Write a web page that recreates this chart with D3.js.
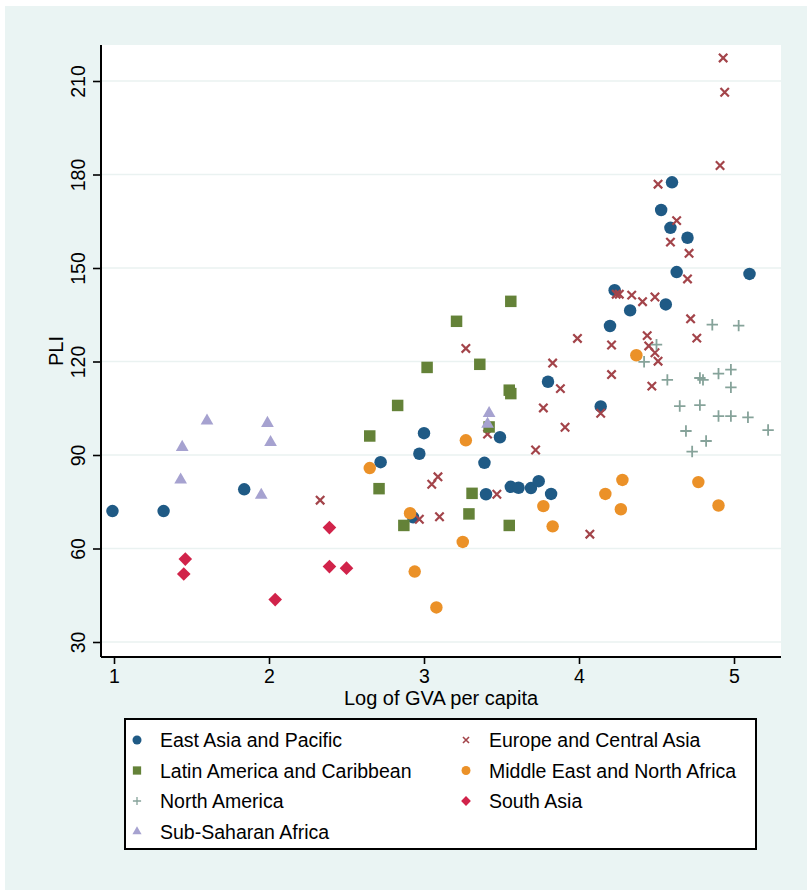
<!DOCTYPE html>
<html>
<head>
<meta charset="utf-8">
<script src="https://cdn.jsdelivr.net/npm/d3@7"></script>
<style>
  body { margin: 0; background: #fff; }
  svg { display: block; font-family: "Liberation Sans", Arial, sans-serif; }
</style>
</head>
<body>
<div id="chart"></div>
<script>
// series: [log GVA per capita, PLI]
const eastAsia = [[0.99, 72], [1.32, 72], [1.84, 79], [3.00, 97], [3.49, 95.7], [2.97, 90.4], [2.72, 87.7],
  [3.39, 87.5], [3.56, 79.8], [3.61, 79.5], [3.69, 79.4], [3.74, 81.6], [3.82, 77.5], [3.40, 77.4], [2.93, 70],
  [3.80, 113.5], [4.14, 105.6], [4.20, 131.4], [4.33, 136.4], [4.56, 138.3], [4.23, 142.9], [4.63, 148.7],
  [5.10, 148.1], [4.70, 159.7], [4.59, 162.9], [4.53, 168.6], [4.60, 177.5]];
const europe = [[4.93, 217.4], [4.94, 206.4], [4.91, 182.9], [4.51, 176.9], [4.63, 165.2], [4.59, 158.3],
  [4.71, 154.7], [4.70, 146.5], [4.24, 141.6], [4.26, 141.6], [4.34, 141.3], [4.49, 140.7], [4.41, 139.2],
  [4.72, 133.7], [4.76, 127.5], [3.99, 127.4], [4.44, 128.3], [4.21, 125.3], [4.45, 125], [4.49, 122.8],
  [4.51, 120.1], [3.83, 119.5], [4.21, 115.8], [3.88, 111.3], [4.47, 112.1], [3.77, 105.1], [4.14, 103.4],
  [3.91, 98.9], [4.07, 64.6], [3.72, 91.6], [3.27, 124.2], [3.41, 96.7], [3.09, 83], [3.05, 80.6],
  [3.47, 77.4], [2.97, 69.4], [3.10, 70.2], [2.33, 75.5]];
const latinAmerica = [[3.56, 139.3], [3.21, 132.9], [3.36, 119.1], [3.02, 118.1], [3.55, 110.8], [3.56, 109.7],
  [2.83, 105.9], [3.42, 99], [2.65, 96.1], [2.71, 79.2], [3.31, 77.7], [3.29, 71.1], [2.87, 67.4], [3.55, 67.4]];
const middleEast = [[3.27, 94.7], [2.65, 85.8], [2.91, 71.3], [3.77, 73.6], [3.83, 67.1], [3.25, 62.1],
  [2.94, 52.6], [3.08, 41.1], [4.28, 82], [4.17, 77.5], [4.27, 72.6], [4.77, 81.3], [4.90, 73.8], [4.37, 122]];
const northAmerica = [[4.86, 131.8], [5.03, 131.5], [4.50, 125.4], [4.42, 119.9], [4.98, 117.4], [4.90, 116.1],
  [4.57, 114.1], [4.78, 114.7], [4.80, 114.1], [4.98, 111.7], [4.65, 105.7], [4.78, 106], [4.90, 102.5],
  [4.98, 102.5], [5.09, 102.1], [5.22, 98], [4.69, 97.7], [4.82, 94.5], [4.73, 91.1]];
const southAsia = [[1.46, 56.6], [1.45, 51.8], [2.04, 43.6], [2.39, 66.7], [2.39, 54.2], [2.50, 53.7]];
const subSaharan = [[1.60, 101], [1.99, 100.2], [2.01, 94.1], [1.44, 92.5], [1.43, 82], [1.95, 77.1],
  [3.42, 103.4], [3.41, 99.9]];

const xTicks = [1, 2, 3, 4, 5];
const yTicks = [30, 60, 90, 120, 150, 180, 210];

const series = [
  { name: 'East Asia and Pacific', data: eastAsia, shape: 'circle', color: '#1f5a85' },
  { name: 'Europe and Central Asia', data: europe, shape: 'x', color: '#a3444a' },
  { name: 'Latin America and Caribbean', data: latinAmerica, shape: 'square', color: '#648238' },
  { name: 'Middle East and North Africa', data: middleEast, shape: 'circle', color: '#eb9128' },
  { name: 'North America', data: northAmerica, shape: 'plus', color: '#86a39a' },
  { name: 'South Asia', data: southAsia, shape: 'diamond', color: '#d1234a' },
  { name: 'Sub-Saharan Africa', data: subSaharan, shape: 'triangle', color: '#a6a2d0' }
];

const W = 807, H = 890;
const plot = { left: 101, right: 781, top: 45, bottom: 657 };

const svg = d3.select('#chart').append('svg').attr('width', W).attr('height', H);

// outer background
svg.append('rect').attr('x', 5).attr('y', 6).attr('width', W - 5).attr('height', H - 6).attr('fill', '#eaf4f3');
svg.append('rect')
  .attr('x', plot.left).attr('y', plot.top)
  .attr('width', plot.right - plot.left).attr('height', plot.bottom - plot.top)
  .attr('fill', '#fff');

const x = d3.scaleLinear().domain([1, 5]).range([114, 734]);
const y = d3.scaleLinear().domain([30, 210]).range([642, 81]);

// gridlines
svg.append('g').selectAll('line')
  .data(yTicks)
  .enter()
  .append('line')
  .attr('x1', plot.left).attr('x2', plot.right)
  .attr('y1', d => y(d)).attr('y2', d => y(d))
  .attr('stroke', '#eaf2f1').attr('stroke-width', 1.6);

// marker paths
function shapePath(shape, k) {
  const s = k || 1;
  if (shape === 'circle') return d3.symbol(d3.symbolCircle, 122 * s * s)();
  if (shape === 'square') return d3.symbol(d3.symbolSquare, 132 * s * s)();
  if (shape === 'triangle') return d3.symbol(d3.symbolTriangle, 70 * s * s)();
  if (shape === 'diamond') {
    const r = 6.8 * s;
    return `M0,${-r}L${r},0L0,${r}L${-r},0Z`;
  }
  if (shape === 'x') {
    const r = 4.2 * s;
    return `M${-r},${-r}L${r},${r}M${-r},${r}L${r},${-r}`;
  }
  const r = 5.7 * s; // plus
  return `M${-r},0L${r},0M0,${-r}L0,${r}`;
}

function styleMark(sel, d, k) {
  const stroked = d.shape === 'x' || d.shape === 'plus';
  sel.attr('d', shapePath(d.shape, k))
    .attr('fill', stroked ? 'none' : d.color)
    .attr('stroke', stroked ? d.color : 'none')
    .attr('stroke-width', stroked ? (d.shape === 'x' ? 2.2 : 1.8) * (k || 1) : 0);
}

const marks = svg.append('g');
series.forEach((s) => {
  marks.append('g')
    .selectAll('path')
    .data(s.data)
    .enter()
    .append('path')
    .attr('transform', d => `translate(${x(d[0])},${y(d[1])})`)
    .each(function () { styleMark(d3.select(this), s); });
});

// axes
const yAxis = svg.append('g')
  .attr('transform', `translate(${plot.left},0)`)
  .call(d3.axisLeft(y).tickValues(yTicks).tickSize(8).tickSizeOuter(0));
yAxis.select('.domain').attr('d', `M0,${plot.top}V${plot.bottom}`).attr('stroke', '#000').attr('stroke-width', 2);
yAxis.selectAll('.tick line').attr('stroke', '#000').attr('stroke-width', 1.6);
yAxis.selectAll('.tick text')
  .attr('font-size', 19.5).attr('fill', '#000')
  .attr('x', 0).attr('dy', 0)
  .attr('text-anchor', 'middle')
  .attr('transform', 'translate(-16,0) rotate(-90)');

const xAxis = svg.append('g')
  .attr('transform', `translate(0,${plot.bottom})`)
  .call(d3.axisBottom(x).tickValues(xTicks).tickSize(7).tickSizeOuter(0).tickFormat(d3.format('d')));
xAxis.select('.domain').attr('d', `M${plot.left},0H${plot.right}`).attr('stroke', '#000').attr('stroke-width', 2);
xAxis.selectAll('.tick line').attr('stroke', '#000').attr('stroke-width', 1.6);
xAxis.selectAll('.tick text').attr('font-size', 19.5).attr('fill', '#000').attr('y', 12).attr('dy', '0.71em');

// axis titles
svg.append('text')
  .attr('x', (plot.left + plot.right) / 2).attr('y', 705)
  .attr('text-anchor', 'middle').attr('font-size', 20)
  .text('Log of GVA per capita');
svg.append('text')
  .attr('transform', `translate(63,${(plot.top + plot.bottom) / 2}) rotate(-90)`)
  .attr('text-anchor', 'middle').attr('font-size', 20)
  .text('PLI');

// legend
const legend = svg.append('g');
legend.append('rect')
  .attr('x', 125).attr('y', 719).attr('width', 631).attr('height', 130)
  .attr('fill', '#fff').attr('stroke', '#000').attr('stroke-width', 2);

const item = legend.selectAll('g.item')
  .data(series)
  .enter()
  .append('g')
  .attr('class', 'item')
  .attr('transform', (d, i) => `translate(${i % 2 ? 466 : 137},${740 + Math.floor(i / 2) * 30.5})`);
item.append('path').each(function (d) { styleMark(d3.select(this), d, 0.72); });
item.append('text')
  .attr('x', 23).attr('dy', '0.36em')
  .attr('font-size', 19.5)
  .text(d => d.name);
</script>
</body>
</html>
